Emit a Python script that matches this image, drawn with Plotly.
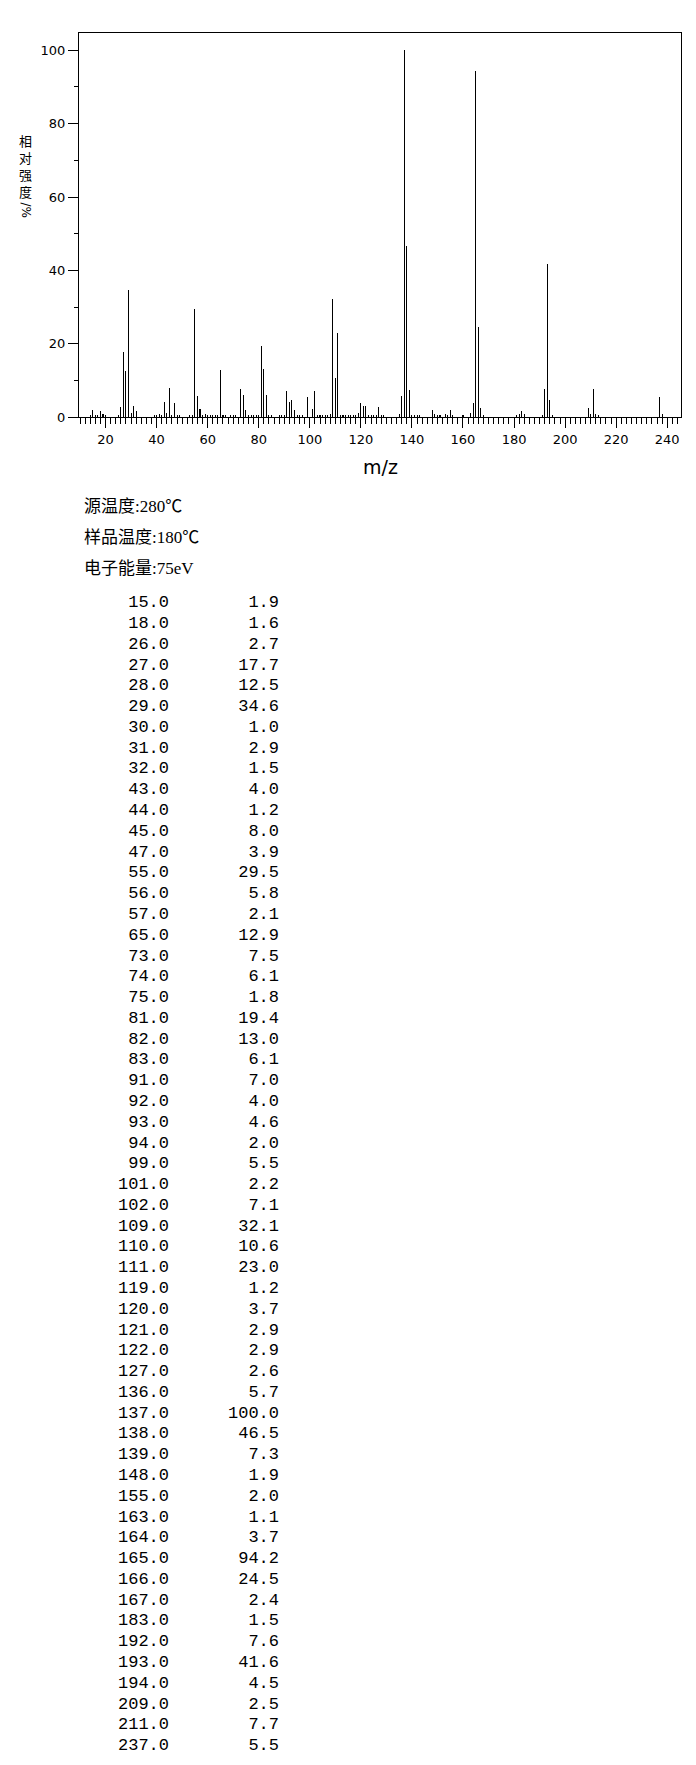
import plotly.graph_objects as go

# peaks listed in the table (m/z, relative intensity %)
mz = [15, 18, 26, 27, 28, 29, 30, 31, 32, 43, 44, 45, 47, 55, 56, 57, 65, 73, 74, 75,
      81, 82, 83, 91, 92, 93, 94, 99, 101, 102, 109, 110, 111, 119, 120, 121, 122, 127,
      136, 137, 138, 139, 148, 155, 163, 164, 165, 166, 167, 183, 192, 193, 194, 209,
      211, 237]
intensity = [1.9, 1.6, 2.7, 17.7, 12.5, 34.6, 1.0, 2.9, 1.5, 4.0, 1.2, 8.0, 3.9, 29.5,
             5.8, 2.1, 12.9, 7.5, 6.1, 1.8, 19.4, 13.0, 6.1, 7.0, 4.0, 4.6, 2.0, 5.5, 2.2,
             7.1, 32.1, 10.6, 23.0, 1.2, 3.7, 2.9, 2.9, 2.6, 5.7, 100.0, 46.5, 7.3, 1.9,
             2.0, 1.1, 3.7, 94.2, 24.5, 2.4, 1.5, 7.6, 41.6, 4.5, 2.5, 7.7, 5.5]

# small peaks (<1 %) seen only in the spectrum, values estimated
small_mz = [14, 16, 17, 19, 20, 25, 39, 40, 41, 42, 46, 48, 49, 53, 54, 58, 59, 60, 61,
            62, 63, 64, 66, 67, 69, 70, 71, 76, 77, 78, 79, 80, 84, 85, 88, 89, 90, 95,
            96, 97, 103, 104, 105, 106, 107, 108, 112, 113, 114, 115, 116, 117, 118, 123,
            124, 125, 126, 128, 129, 135, 140, 141, 142, 143, 149, 150, 151, 153, 154,
            156, 160, 168, 181, 182, 184, 191, 195, 210, 212, 213, 238]
small_int = [0.4, 0.4, 0.4, 0.9, 0.3, 0.3, 0.3, 0.3, 0.9, 0.6, 0.3, 0.6, 0.3, 0.3, 0.6,
             0.3, 0.9, 0.3, 0.3, 0.3, 0.3, 0.3, 0.3, 0.3, 0.3, 0.3, 0.6, 0.3, 0.6, 0.3,
             0.3, 0.3, 0.6, 0.3, 0.3, 0.4, 0.3, 0.3, 0.6, 0.3, 0.6, 0.3, 0.3, 0.3, 0.6,
             0.9, 0.6, 0.4, 0.4, 0.4, 0.4, 0.4, 0.4, 0.6, 0.4, 0.3, 0.4, 0.4, 0.6, 0.9,
             0.6, 0.4, 0.4, 0.4, 0.9, 0.4, 0.4, 0.9, 0.6, 0.3, 0.3, 0.3, 0.6, 0.7, 0.9,
             0.3, 0.6, 0.7, 0.9, 0.3, 0.9]

conditions = ["源温度:280℃", "样品温度:180℃", "电子能量:75eV"]
y_title = "相<br>对<br>强<br>度"
y_unit = "/%"

# the page body adds an 8px margin, so the figure is 16px smaller than the window
# and every window pixel position below is shifted by that margin
PAD = 8
W, H = 696 - 2 * PAD, 1765 - 2 * PAD
L, R, T, B = 79, 680.5, 33.3, 417.3   # plot frame, window pixels
ROW0, ROWH = 603, 20.78               # table first row centre and row pitch
TAB_TOP = 590

def px(p):
    return (p - PAD) / W

def py(p):
    return 1 - (p - PAD) / H

fig = go.Figure()

fig.add_trace(go.Bar(x=small_mz, y=small_int, width=0.02,
                     marker=dict(color='black', line=dict(width=0))))
fig.add_trace(go.Bar(x=mz, y=intensity, width=0.02,
                     marker=dict(color='black', line=dict(width=0))))

# table of peaks as text on a hidden axis pair (x in window pixels, y = -row)
rows = list(range(len(mz)))
mono = dict(family='Liberation Mono', size=17, color='black')
fig.add_trace(go.Scatter(
    x=[169] * len(mz), y=[-r for r in rows], mode='text',
    text=['%.1f' % m for m in mz], textposition='middle left', textfont=mono,
    cliponaxis=False, xaxis='x2', yaxis='y2'))
fig.add_trace(go.Scatter(
    x=[279] * len(mz), y=[-r for r in rows], mode='text',
    text=['%.1f' % v for v in intensity], textposition='middle left', textfont=mono,
    cliponaxis=False, xaxis='x2', yaxis='y2'))

tick_font = dict(family='DejaVu Sans', size=13, color='black')
y2_top = (ROW0 - TAB_TOP) / ROWH
y2_bottom = y2_top - (H + PAD - TAB_TOP) / ROWH
fig.update_layout(
    width=W, height=H,
    margin=dict(l=0, r=0, t=0, b=0, autoexpand=False),
    paper_bgcolor='white', plot_bgcolor='white',
    showlegend=False, bargap=0,
    xaxis=dict(domain=[px(L), px(R)], range=[9.6, 245.2],
               showline=True, mirror=True, linecolor='black', linewidth=1,
               showgrid=False, zeroline=False,
               ticks='outside', tick0=0, dtick=20, ticklen=10, tickwidth=1,
               tickcolor='black', tickfont=tick_font,
               minor=dict(dtick=2, ticks='outside', ticklen=6, tickcolor='black',
                          showgrid=False)),
    yaxis=dict(domain=[py(B), py(T)], range=[0, 104.6],
               showline=True, mirror=True, linecolor='black', linewidth=1,
               showgrid=False, zeroline=False,
               ticks='outside', tick0=0, dtick=20, ticklen=10, tickwidth=1,
               tickcolor='black', tickfont=tick_font,
               minor=dict(dtick=10, ticks='outside', ticklen=4, tickcolor='black',
                          showgrid=False)),
    xaxis2=dict(domain=[0, 1], range=[PAD, W + PAD], visible=False, anchor='y2'),
    yaxis2=dict(domain=[0, py(TAB_TOP)], range=[y2_bottom, y2_top],
                visible=False, anchor='x2'),
)

# vertical y-axis title, characters stacked, unit turned sideways
fig.add_annotation(x=px(25), y=py(165.7), xref='paper', yref='paper',
                   text=y_title, showarrow=False, xanchor='center', yanchor='middle',
                   font=dict(family='Noto Sans CJK SC', size=13, color='black'))
fig.add_annotation(x=px(25), y=py(209.5), xref='paper', yref='paper',
                   text=y_unit, textangle=90, showarrow=False,
                   xanchor='center', yanchor='middle',
                   font=dict(family='DejaVu Sans', size=12, color='black'))

fig.add_annotation(x=px(380), y=py(466.5), xref='paper', yref='paper',
                   text='m/z', showarrow=False, xanchor='center', yanchor='middle',
                   font=dict(family='DejaVu Sans', size=19, color='black'))

for i, line in enumerate(conditions):
    fig.add_annotation(x=px(82), y=py(506 + 31 * i), xref='paper', yref='paper',
                       text=line, showarrow=False, xanchor='left', yanchor='middle',
                       font=dict(family='Liberation Serif, Noto Sans CJK SC', size=17,
                                 color='black'))

fig.write_html("out.html")
